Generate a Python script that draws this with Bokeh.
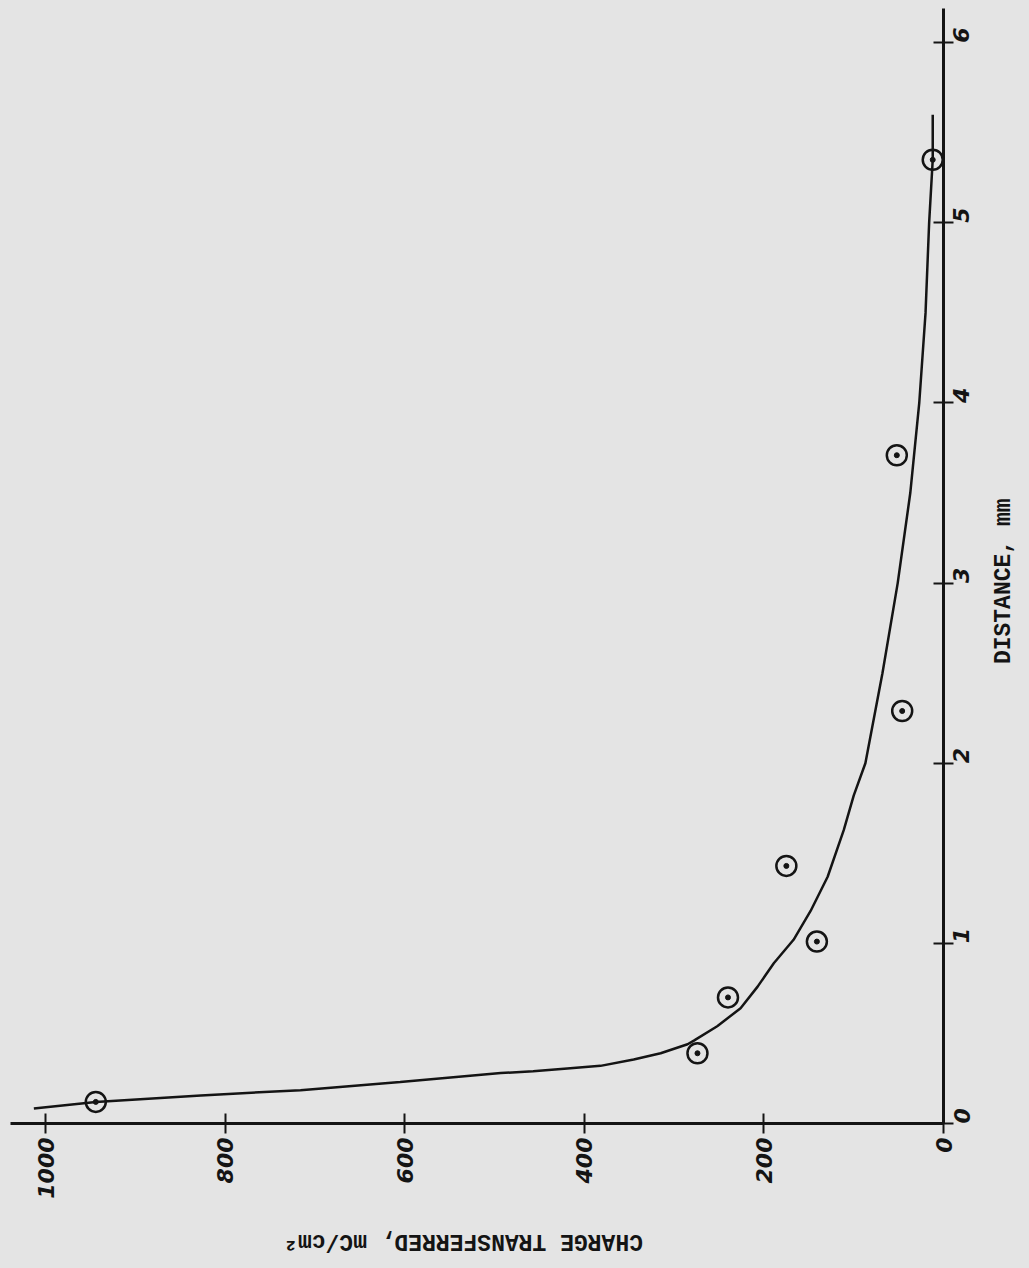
import math
from bokeh.plotting import figure
from bokeh.models import Range1d, FixedTicker, LinearAxis
from bokeh.layouts import column, row
from bokeh.core.properties import value
from bokeh.embed import file_html
from bokeh.resources import INLINE

# Measured data points (distance in mm, charge in mC/cm^2)
point_distance = [0.12, 0.39, 0.70, 1.01, 1.43, 2.29, 3.71, 5.35]
point_charge = [944, 274, 240, 141, 175, 46, 52, 12]

# Fitted curve
curve_distance = [0.083, 0.12, 0.156, 0.185, 0.23, 0.28, 0.29, 0.305, 0.32, 0.355,
                  0.39, 0.44, 0.46, 0.54, 0.64, 0.76, 0.89, 1.02, 1.18, 1.37,
                  1.63, 1.82, 2.0, 2.5, 3.0, 3.5, 4.0, 4.5, 5.0, 5.35, 5.6]
curve_charge = [1013, 944, 827, 716, 605, 493, 457, 419, 382, 345,
                315, 285, 278, 252, 226, 207, 189, 167, 148, 129,
                111, 100, 87, 68, 51, 37, 27, 20, 16, 12, 12]

charge_ticks = [0, 200, 400, 600, 800, 1000]
distance_ticks = [0, 1, 2, 3, 4, 5, 6]

x_label = "CHARGE TRANSFERRED, mC/cm²"
y_label = "DISTANCE, mm"

BG = "#e4e4e4"
INK = "#141414"
LABEL_FONT = "Liberation Mono"


def blank(width, height):
    f = figure(width=width, height=height, x_range=Range1d(0, width),
               y_range=Range1d(0, height), x_axis_location=None,
               y_axis_location=None, output_backend="svg",
               toolbar_location=None, min_border=0)
    f.background_fill_color = BG
    f.border_fill_color = BG
    f.outline_line_color = None
    f.grid.visible = False
    return f


p = figure(width=988, height=1203, frame_width=933, frame_height=1115,
           x_range=Range1d(1039, 0), y_range=Range1d(0, 6.19),
           x_axis_location=None, y_axis_location=None,
           output_backend="svg", toolbar_location=None,
           min_border_left=10, min_border_top=8, min_border_right=45,
           min_border_bottom=80)
p.background_fill_color = BG
p.border_fill_color = BG
p.outline_line_color = None
p.grid.visible = False

xaxis = LinearAxis(ticker=FixedTicker(ticks=charge_ticks))
yaxis = LinearAxis(ticker=FixedTicker(ticks=distance_ticks))
for ax in (xaxis, yaxis):
    ax.axis_line_width = 3
    ax.axis_line_color = INK
    ax.major_tick_line_width = 2
    ax.major_tick_line_color = INK
    ax.major_tick_in = 10
    ax.major_tick_out = 10
    ax.minor_tick_line_color = None
    ax.major_label_text_font = "DejaVu Sans"
    ax.major_label_text_font_style = "bold italic"
    ax.major_label_text_font_size = "22px"
    ax.major_label_text_color = INK
    ax.major_label_orientation = math.pi / 2
xaxis.major_label_standoff = 4
yaxis.major_label_standoff = 8
p.add_layout(xaxis, "below")
p.add_layout(yaxis, "right")

p.line(curve_charge, curve_distance, line_color=INK, line_width=2.5)
p.scatter(point_charge, point_distance, marker="circle", size=20,
          fill_color=None, line_color=INK, line_width=2.5)
p.scatter(point_charge, point_distance, marker="circle", size=5,
          fill_color=INK, line_color=INK)

# Axis titles: the scanned page is rotated, so the titles are turned too
right_fig = blank(41, 1203)
right_fig.text(x=[15], y=[585], text=[y_label], angle=math.pi / 2,
               text_align="center", text_baseline="middle",
               text_font=value(LABEL_FONT), text_font_style="bold",
               text_font_size="23px", text_color=INK)

bottom_fig = blank(1029, 65)
bottom_fig.text(x=[463], y=[28], text=[x_label], angle=math.pi,
                text_align="center", text_baseline="middle",
                text_font=value(LABEL_FONT), text_font_style="bold",
                text_font_size="23px", text_color=INK)

layout = column(row(p, right_fig, spacing=0), bottom_fig, spacing=0)

html = file_html(layout, INLINE).replace(
    "</head>", "<style>html, body {background: #e4e4e4;}</style></head>")
open("out.html", "w").write(html)
